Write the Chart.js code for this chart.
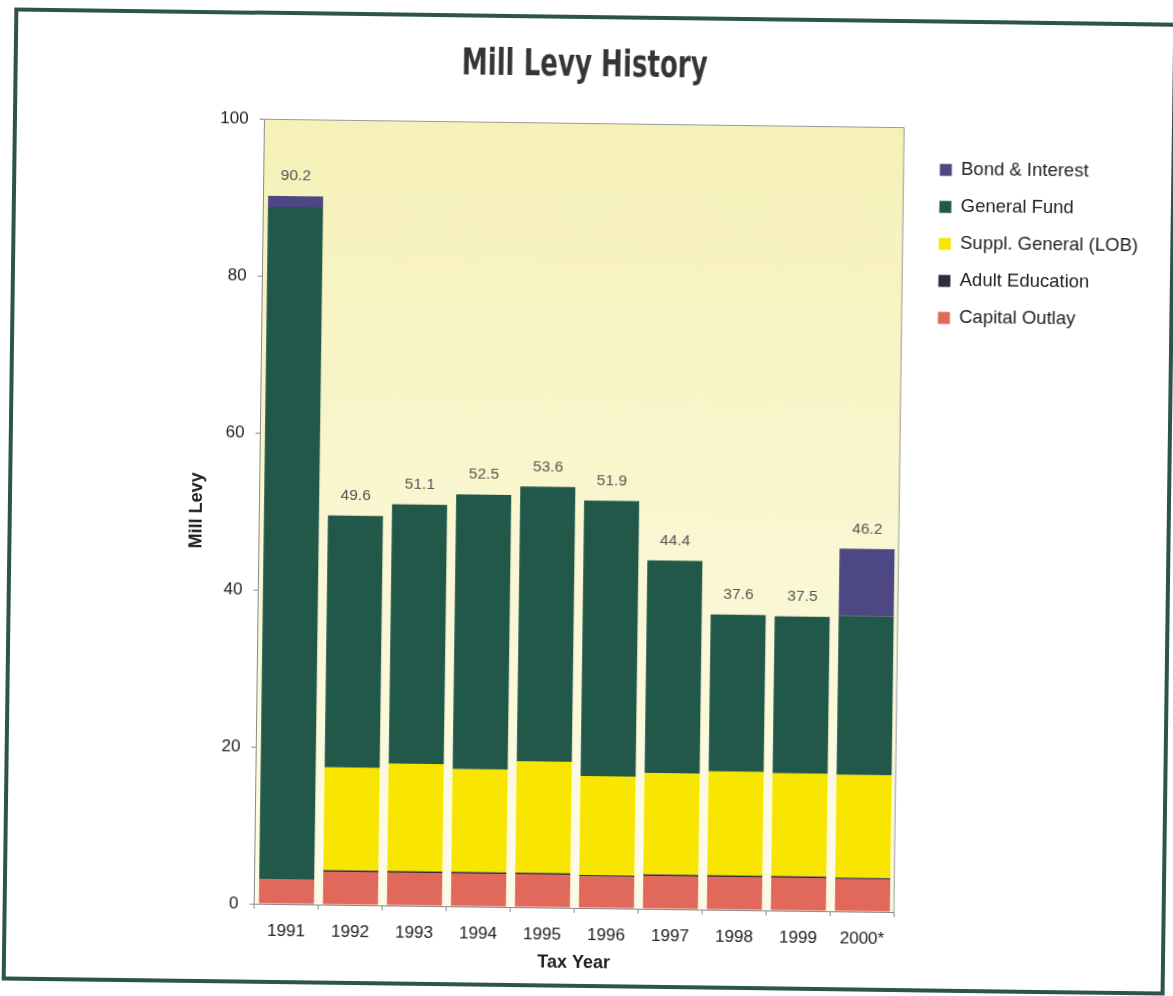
<!DOCTYPE html>
<html>
<head>
<meta charset="utf-8">
<script src="https://cdn.jsdelivr.net/npm/chart.js@4.4.1/dist/chart.umd.min.js"></script>
<style>
html,body{margin:0;padding:0;background:#fff;width:1173px;height:996px;overflow:hidden;}
#page{position:absolute;left:0;top:0;width:1173px;height:996px;transform-origin:586px 500px;transform:rotate(0.75deg);}
#frame{position:absolute;left:8px;top:15px;width:1163px;height:973px;border:4px solid #2c5447;box-sizing:border-box;}
#c{position:absolute;left:0;top:0;}
</style>
</head>
<body>
<div id="page">
  <div id="frame"></div>
  <canvas id="c" width="1143" height="996"></canvas>
</div>
<script>
// ---- data ----
const chartTitle = 'Mill Levy History';
const years = ['1991','1992','1993','1994','1995','1996','1997','1998','1999','2000*'];
const capitalOutlay   = [3.2, 4.2, 4.2, 4.2, 4.2, 4.0, 4.2, 4.2, 4.2, 4.1];
const adultEducation  = [0.0, 0.2, 0.2, 0.2, 0.2, 0.2, 0.2, 0.2, 0.2, 0.2];
const supplGeneral    = [0.0, 13.1, 13.7, 13.1, 14.2, 12.6, 12.9, 13.2, 13.1, 13.1];
const generalFund     = [85.6, 32.1, 33.0, 35.0, 35.0, 35.1, 27.1, 20.0, 20.0, 20.2];
const bondInterest    = [1.4, 0, 0, 0, 0, 0, 0, 0, 0, 8.6];
const totals          = [90.2, 49.6, 51.1, 52.5, 53.6, 51.9, 44.4, 37.6, 37.5, 46.2];
const yTicks          = [0, 20, 40, 60, 80, 100];

const BASE_FONT = "'Liberation Sans', Arial, Helvetica, sans-serif";
Chart.defaults.font.family = BASE_FONT;

const plotBg = {
  id: 'plotBg',
  beforeDraw(chart) {
    const {ctx, chartArea: a} = chart;
    const g = ctx.createLinearGradient(0, a.top, 0, a.bottom);
    g.addColorStop(0, '#f6f1b8');
    g.addColorStop(1, '#fdfbe8');
    ctx.save();
    ctx.fillStyle = g;
    ctx.fillRect(a.left, a.top, a.right - a.left, a.bottom - a.top);
    ctx.restore();
  },
  afterDraw(chart) {
    const {ctx, chartArea: a} = chart;
    ctx.save();
    ctx.strokeStyle = '#9a9a9a';
    ctx.lineWidth = 1;
    ctx.beginPath();
    ctx.moveTo(a.left, a.top + 0.5);
    ctx.lineTo(a.right - 0.5, a.top + 0.5);
    ctx.lineTo(a.right - 0.5, a.bottom);
    ctx.stroke();
    ctx.restore();
  }
};

// condensed heavy title (Impact-like) drawn above the plot
const bigTitle = {
  id: 'bigTitle',
  afterDraw(chart) {
    const ctx = chart.ctx;
    ctx.save();
    ctx.font = "bold 38px 'DejaVu Sans Condensed', 'DejaVu Sans', sans-serif";
    const w = ctx.measureText(chartTitle).width;
    ctx.translate(579, 76);
    ctx.scale(246 / w, 1);
    ctx.textAlign = 'center';
    ctx.textBaseline = 'alphabetic';
    ctx.fillStyle = '#353535';
    ctx.fillText(chartTitle, 0, 0);
    ctx.restore();
  }
};

const totalLabels = {
  id: 'totalLabels',
  afterDatasetsDraw(chart) {
    const {ctx, scales: {x, y}} = chart;
    ctx.save();
    ctx.font = '15.5px ' + BASE_FONT;
    ctx.fillStyle = '#555';
    ctx.textAlign = 'center';
    ctx.textBaseline = 'middle';
    totals.forEach((t, i) => {
      ctx.fillText(t.toFixed(1), x.getPixelForValue(i), y.getPixelForValue(t) - 20);
    });
    ctx.restore();
  }
};

new Chart(document.getElementById('c'), {
  type: 'bar',
  data: {
    labels: years,
    datasets: [
      {label: 'Capital Outlay', data: capitalOutlay, backgroundColor: '#e0695b'},
      {label: 'Adult Education', data: adultEducation, backgroundColor: '#2e2e3a'},
      {label: 'Suppl. General (LOB)', data: supplGeneral, backgroundColor: '#f8e600'},
      {label: 'General Fund', data: generalFund, backgroundColor: '#21584a'},
      {label: 'Bond & Interest', data: bondInterest, backgroundColor: '#4d4784'}
    ]
  },
  options: {
    responsive: false,
    animation: false,
    devicePixelRatio: 1,
    datasets: {bar: {barPercentage: 0.86, categoryPercentage: 1, borderWidth: 0}},
    layout: {padding: {left: 15.5, right: 0, top: 123, bottom: 22.2}},
    plugins: {
      tooltip: {enabled: false},
      title: {display: false},
      legend: {
        position: 'right',
        align: 'start',
        reverse: true,
        maxWidth: 226,
        title: {display: true, text: ' ', font: {size: 10}, padding: {top: 0, bottom: 2.55}},
        labels: {
          boxWidth: 12,
          boxHeight: 12,
          padding: 18.5,
          color: '#222',
          font: {size: 18.5}
        }
      }
    },
    scales: {
      x: {
        stacked: true,
        grid: {display: true, drawOnChartArea: false, tickLength: 5, color: '#8a8a8a', offset: true},
        border: {display: true, color: '#8a8a8a'},
        ticks: {color: '#222', font: {size: 17}, padding: 12.3, maxRotation: 0},
        title: {display: true, text: 'Tax Year', color: '#222', font: {size: 18, weight: 'bold'}, padding: {top: 0, bottom: 0}},
        afterFit(s) { s.height = 65.8; }
      },
      y: {
        stacked: true,
        min: 0,
        max: 100,
        afterBuildTicks(s) { s.ticks = yTicks.map(v => ({value: v})); },
        grid: {display: true, drawOnChartArea: false, tickLength: 5, color: '#8a8a8a'},
        border: {display: true, color: '#8a8a8a'},
        ticks: {color: '#222', font: {size: 17}, padding: 11},
        title: {display: true, text: 'Mill Levy', color: '#222', font: {size: 18, weight: 'bold'}, padding: {top: 170.7, bottom: 0}},
        afterFit(s) { s.width = 244.2; }
      },
      gap: {
        type: 'linear',
        position: 'right',
        display: true,
        grid: {display: false},
        ticks: {display: false},
        border: {display: false},
        afterFit(s) { s.width = 17.3; }
      }
    }
  },
  plugins: [plotBg, totalLabels, bigTitle]
});
</script>
</body>
</html>
